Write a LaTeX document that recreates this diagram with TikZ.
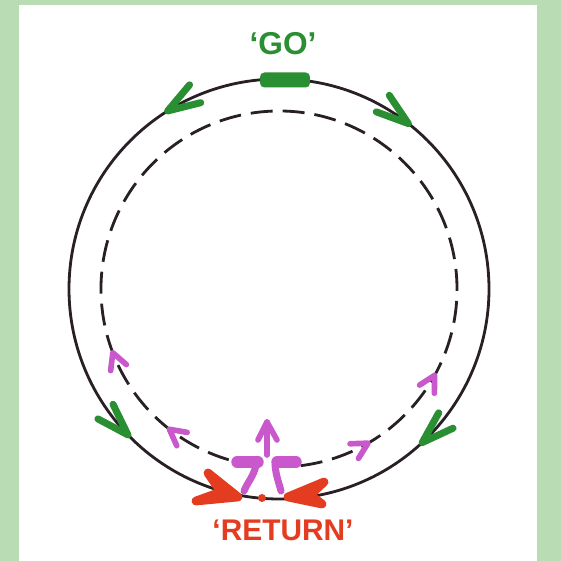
\documentclass[tikz,border=0pt]{standalone}
\usepackage{fontspec}
\setmainfont{Liberation Sans}
\usetikzlibrary{calc}

\begin{document}
\begin{tikzpicture}[x=0.02cm, y=0.02cm, font=\bfseries,
    ring/.style={draw=#1, line width=1.6pt},
    chev/.style={draw=#1, line width=4pt, line cap=round, line join=round},
    dart/.style={draw=#1, fill=#1, line width=5pt, line join=round},
    lbl/.style={text=#1, inner sep=0pt}]
  \definecolor{boardgreen}{RGB}{186,220,180}
  \definecolor{loopink}{RGB}{40,32,38}
  \definecolor{gogreen}{RGB}{42,142,50}
  \definecolor{returnred}{RGB}{228,60,32}
  \definecolor{trackpink}{RGB}{200,88,204}
  % ---- board and paper -----------------------------------------------------
  \fill[boardgreen] (0,0) rectangle (561,561);
  \fill[white] (19,0) rectangle (537,556);
  \useasboundingbox (0,0) rectangle (561,561);
  % ---- the two loops -------------------------------------------------------
  \coordinate (c) at (279,272);
  \draw[ring=loopink] (c) circle [radius=210];
  \draw[ring=loopink, dash pattern=on 0.44cm off 0.2cm]
    ($(c)+(-83:178)$) arc [start angle=-83, end angle=255, radius=178];
  % ---- 'GO' at the top -----------------------------------------------------
  \node[fill=gogreen, rounded corners=2.5pt, minimum width=1cm, minimum height=0.3cm] (gobar) at (285,481) {};
  \node[lbl=gogreen, font=\bfseries\fontsize{18}{18}\selectfont] (go) at (283,517) {‘GO’};
  % green arrows on the outer loop: tip angle / back angle
  \foreach \a/\b in {122/32, 52/142, 224/134, 313/43} {
    \draw[chev=gogreen] ($(c)+(\a:210)+(\b+18:34)$) -- ($(c)+(\a:210)$) -- ++(\b-18:34);}
  % ---- 'RETURN' at the bottom ----------------------------------------------
  \filldraw[dart=returnred] (238,64) -- (208,88) -- (221,69) -- (196,60) -- cycle;
  \filldraw[dart=returnred] (288,64) -- (324,79) -- (310,66) -- (322,57) -- cycle;
  \node[circle, fill=returnred, inner sep=0pt, minimum size=0.16cm] (turn) at (262,63) {};
  \node[lbl=returnred, font=\bfseries\fontsize{17}{17}\selectfont] (return) at (283,31) {‘RETURN’};
  % ---- inner track: junction and pink arrows -------------------------------
  \draw[chev=trackpink, line width=6.5pt] (237,99) -- (258,99);
  \draw[chev=trackpink, line width=6.5pt] (277,99) -- (296,99);
  \draw[chev=trackpink] (256,96) .. controls (254,85) and (247,78) .. (244,70);
  \draw[chev=trackpink] (275,96) .. controls (276,85) and (279,78) .. (281,70);
  \draw[chev=trackpink, line width=3.2pt] (267,106) -- (267,139);
  \draw[chev=trackpink, line width=3.2pt] (258,121) -- (267,139) -- (277,121);
  \foreach \a/\b in {201/291, 232/322, 300/210, 331/241} {
    \draw[chev=trackpink, line width=3.2pt] ($(c)+(\a:178)+(\b+28:18)$) -- ($(c)+(\a:178)$) -- ++(\b-28:18);}
\end{tikzpicture}
\end{document}
